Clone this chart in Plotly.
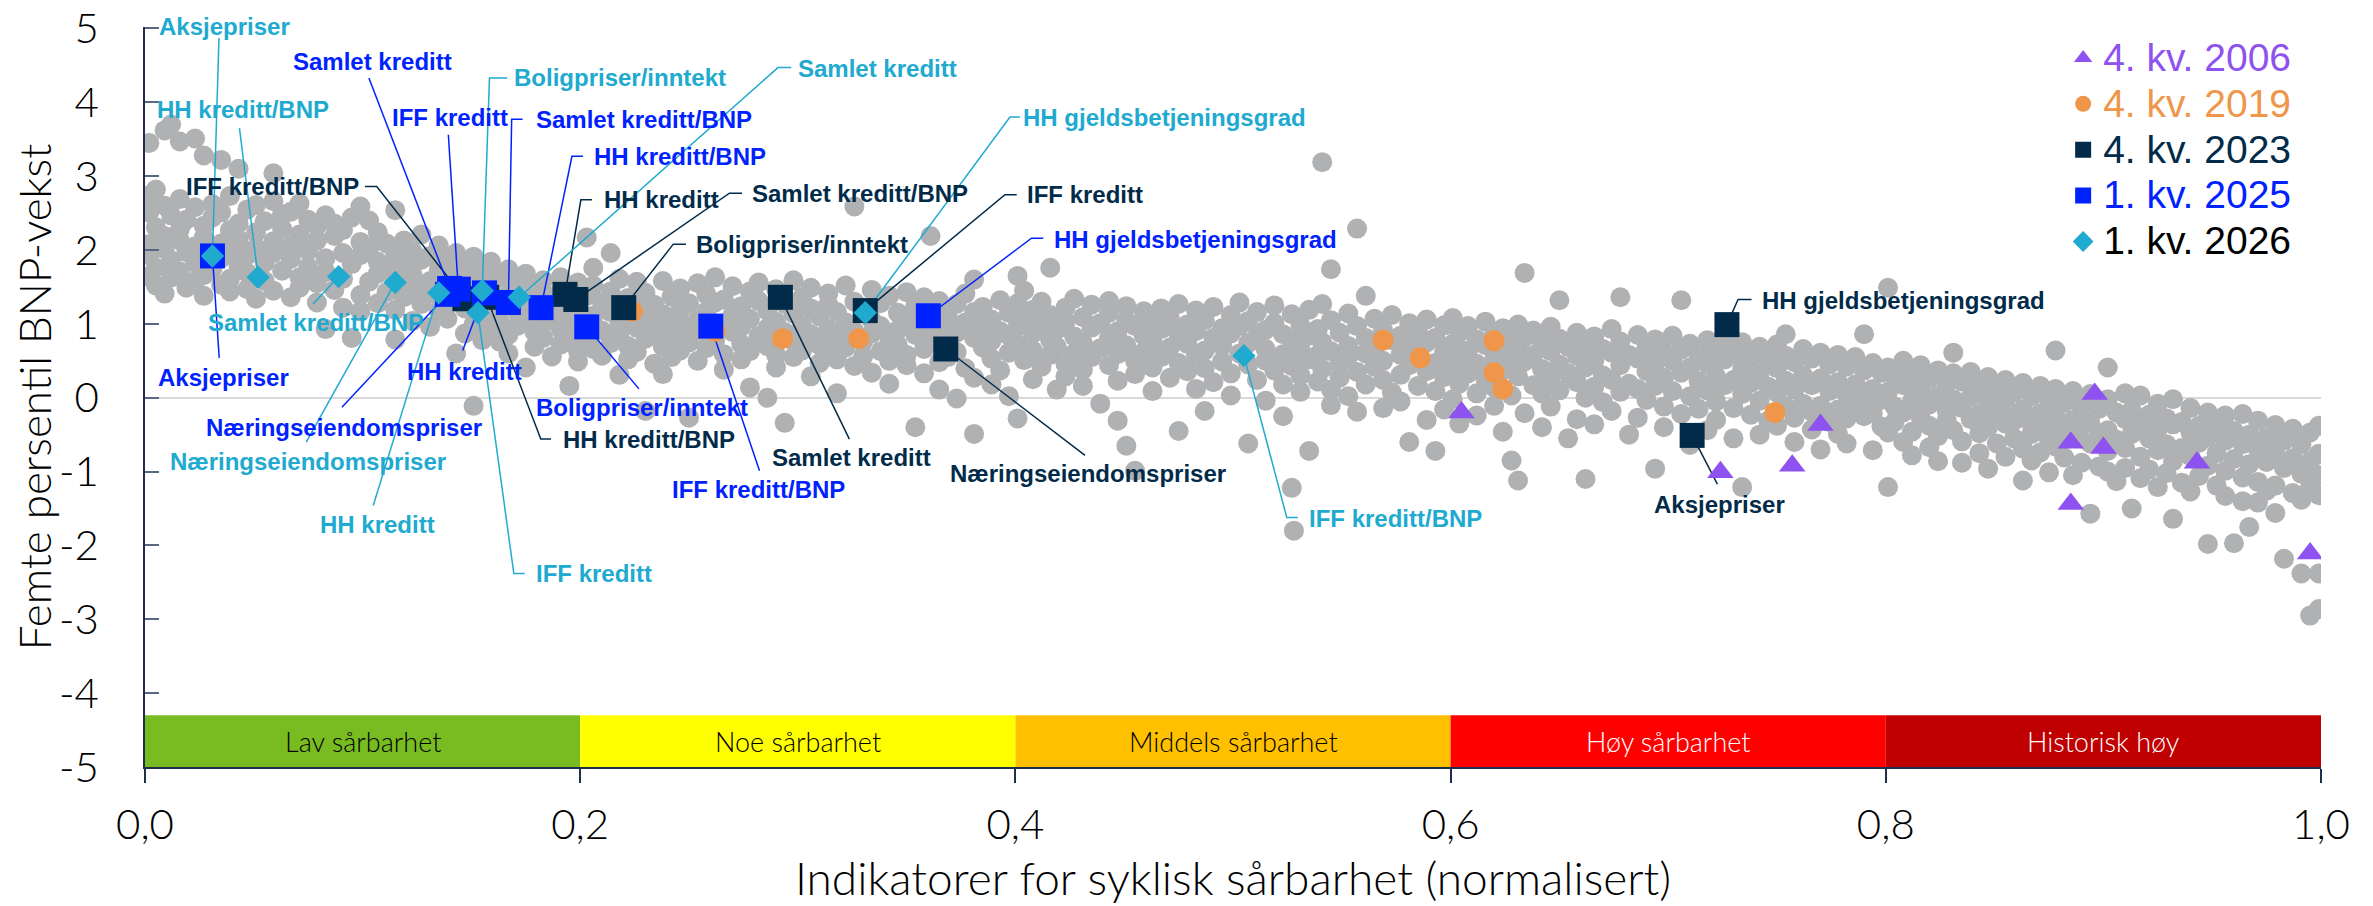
import plotly.graph_objects as go

# ---- data ---------------------------------------------------------------
# grey cloud: historical observations, as (x, [y values]) columns per vulnerability band
grey_lav = [
    (0.002, [3.45, 2.74, 2.51, 2.08, 1.93, 1.64]), (0.005, [2.82, 2.31, 1.76, 1.52]),
    (0.009, [3.62, 2.60, 2.19, 2.01, 1.41]), (0.012, [3.70, 2.47, 1.86, 1.63]),
    (0.016, [3.47, 2.69, 2.28, 2.13, 1.71]), (0.019, [2.41, 1.97, 1.49]),
    (0.023, [3.51, 2.58, 2.05, 1.83, 1.58]), (0.027, [3.28, 2.33, 2.17, 1.66, 1.38]),
    (0.031, [2.62, 2.44, 1.75]), (0.035, [3.22, 2.51, 2.09, 1.89, 1.53]),
    (0.039, [2.73, 2.27, 1.97, 1.61, 1.44]), (0.043, [3.10, 2.36, 2.14, 1.78]),
    (0.047, [2.55, 1.93, 1.69, 1.47]), (0.051, [2.61, 2.24, 2.03, 1.34]),
    (0.055, [2.39, 1.83, 1.58]), (0.059, [3.04, 2.66, 2.12, 1.96, 1.45]),
    (0.063, [2.48, 2.29, 1.72]), (0.067, [2.52, 2.06, 1.88, 1.36]),
    (0.071, [2.63, 2.21, 1.63, 1.49]), (0.075, [2.41, 1.99, 1.77]),
    (0.079, [2.33, 2.13, 1.55, 1.29]), (0.083, [2.47, 1.89, 1.70, 0.93]),
    (0.087, [2.36, 2.19, 1.46]), (0.091, [2.27, 1.96, 1.61, 1.22]),
    (0.095, [2.44, 1.81, 0.81]), (0.099, [2.59, 2.11, 1.93, 1.39, 1.17]),
    (0.103, [2.40, 2.02, 1.57]), (0.107, [2.24, 1.84, 1.68, 1.28]),
    (0.111, [2.09, 1.74, 1.43]), (0.115, [2.54, 1.95, 1.59, 1.19, 0.79]),
    (0.119, [2.13, 1.81, 1.36]), (0.123, [1.98, 1.66, 1.49, 1.04]),
    (0.127, [2.21, 1.87, 1.27]), (0.131, [1.92, 1.58, 1.41, 0.96]),
    (0.135, [2.06, 1.73, 1.18]), (0.139, [1.85, 1.52, 1.31, 1.07]),
    (0.143, [1.96, 1.64, 0.60]), (0.147, [1.79, 1.42, 1.21, 0.87]),
    (0.151, [1.91, 1.57, 0.99, -0.11]), (0.155, [1.70, 1.33, 1.12, 0.78]),
    (0.159, [1.84, 1.48, 0.92]), (0.163, [1.62, 1.26, 1.04, 0.76]),
    (0.167, [1.74, 1.39, 0.85, 0.60]), (0.171, [1.55, 1.17, 0.97]),
    (0.175, [1.68, 1.31, 1.08, 0.41]), (0.179, [1.46, 1.22, 0.89, 0.69]),
    (0.183, [1.59, 1.01, 0.81]), (0.187, [1.37, 1.14, 0.56]),
    (0.191, [1.63, 1.27, 0.93, 0.72]), (0.195, [1.45, 1.06, 0.84, 0.16]),
    (0.199, [1.56, 1.19, 0.63, 0.49]),
]
grey_noe = [
    (0.203, [2.17, 1.38, 0.98, 0.79]), (0.206, [1.76, 1.52, 1.11, 0.66]),
    (0.210, [1.29, 0.91, 0.57]), (0.214, [1.96, 1.44, 1.16, 0.74]),
    (0.218, [1.61, 1.03, 0.86, 0.31]), (0.222, [1.35, 0.70, 0.52]),
    (0.226, [1.57, 1.21, 0.95, 0.62]), (0.230, [1.42, 1.08, 0.80, -0.18]),
    (0.234, [1.26, 0.88, 0.46]), (0.238, [1.58, 1.13, 0.99, 0.69, 0.32]),
    (0.242, [1.37, 0.83, 0.55]), (0.246, [1.48, 1.19, 1.02, 0.64]),
    (0.250, [1.28, 0.92, 0.75, -0.27]), (0.254, [1.55, 1.06, 0.50]),
    (0.258, [1.40, 1.17, 0.86, 0.67]), (0.262, [1.63, 1.29, 0.78]),
    (0.266, [1.33, 1.00, 0.59, 0.38]), (0.270, [1.51, 1.12, 0.89]),
    (0.274, [1.24, 0.96, 0.73, 0.52]), (0.278, [1.44, 1.07, 0.63, 0.14]),
    (0.282, [1.56, 1.31, 0.84]), (0.286, [1.18, 0.94, 0.70, 0.00]),
    (0.290, [1.47, 1.03, 0.58, 0.41]), (0.294, [1.27, 0.89, -0.34]),
    (0.298, [1.59, 1.14, 0.77, 0.55]), (0.302, [1.36, 0.98, 0.64]),
    (0.306, [1.49, 1.21, 0.86, 0.29]), (0.310, [1.10, 0.71, 0.47]),
    (0.314, [1.41, 1.26, 0.93, 0.60]), (0.318, [1.16, 0.81, 0.52, 0.06]),
    (0.322, [1.52, 1.02, 0.68]), (0.326, [2.59, 1.30, 0.90, 0.43]),
    (0.330, [1.19, 0.76, 0.56]), (0.334, [1.46, 1.05, 0.87, 0.34]),
    (0.338, [1.28, 0.97, 0.63]), (0.342, [1.38, 0.82, 0.50, 0.19]),
    (0.346, [1.15, 0.92, 0.71]), (0.350, [1.43, 1.07, 0.58, 0.44]),
    (0.354, [1.25, 0.85, -0.40]), (0.358, [1.36, 1.01, 0.66, 0.33]),
    (0.361, [2.19, 1.18, 0.79]), (0.365, [1.31, 0.94, 0.48, 0.11]),
    (0.369, [1.09, 0.73, 0.55]), (0.373, [1.27, 0.88, 0.62, -0.01]),
    (0.377, [1.41, 1.02, 0.40]), (0.381, [1.60, 1.16, 0.81, 0.27, -0.49]),
    (0.385, [1.23, 0.95, 0.68]), (0.389, [1.06, 0.77, 0.53, 0.18]),
    (0.393, [1.32, 0.90, 0.37]), (0.397, [1.15, 0.84, 0.61, 0.02]),
]
grey_middels = [
    (0.401, [1.65, 1.28, 0.96, 0.72, -0.28]), (0.404, [1.45, 1.08, 0.51]),
    (0.408, [1.19, 0.87, 0.64, 0.25]), (0.412, [1.30, 0.99, 0.42]),
    (0.416, [1.76, 1.12, 0.78, 0.58]), (0.419, [0.92, 0.69, 0.11]),
    (0.423, [1.22, 1.03, 0.46, 0.29]), (0.427, [1.34, 0.83, 0.60]),
    (0.431, [1.09, 0.74, 0.38, 0.16]), (0.435, [1.26, 0.95, 0.55]),
    (0.439, [1.01, 0.67, -0.08]), (0.443, [1.31, 1.15, 0.81, 0.44]),
    (0.447, [0.90, 0.59, 0.23, -0.31]), (0.451, [1.24, 1.04, 0.71, -0.65]),
    (0.455, [0.97, 0.50, 0.32, -0.99]), (0.459, [1.17, 0.84, 0.62]),
    (0.463, [1.02, 0.76, 0.41, 0.09]), (0.467, [1.21, 0.93, 0.55]),
    (0.471, [1.08, 0.68, 0.27]), (0.475, [1.27, 0.86, 0.47, -0.45]),
    (0.479, [0.99, 0.73, 0.36]), (0.483, [1.18, 0.90, 0.58, 0.12]),
    (0.487, [1.05, 0.64, 0.40, -0.18]), (0.491, [1.23, 0.81, 0.21]),
    (0.495, [0.94, 0.70, 0.49]), (0.499, [1.12, 0.87, 0.33, 0.03]),
    (0.503, [1.29, 0.97, 0.60]), (0.507, [1.04, 0.74, 0.45, -0.62]),
    (0.511, [1.16, 0.83, 0.24]), (0.515, [0.92, 0.66, 0.50, -0.04]),
    (0.519, [1.25, 1.01, 0.37]), (0.523, [0.86, 0.59, 0.18, -0.25]),
    (0.527, [1.13, 0.77, 0.43, -1.22]), (0.528, [-1.80]),
    (0.531, [0.98, 0.65, 0.30, 0.08]), (0.535, [1.19, 0.84, 0.52, -0.72]),
    (0.539, [0.93, 0.58, 0.22]), (0.541, [3.19, 1.27, 0.75, 0.39]),
    (0.545, [1.74, 1.05, 0.63, 0.11, -0.10]), (0.549, [0.88, 0.46, 0.27]),
    (0.553, [1.14, 0.70, 0.56, 0.02]), (0.557, [2.29, 0.97, 0.35, -0.19]),
    (0.561, [1.38, 0.81, 0.60, 0.18]), (0.565, [1.07, 0.67, 0.42]),
    (0.569, [0.91, 0.50, 0.24, -0.14]), (0.573, [1.12, 0.78, 0.07]),
    (0.577, [0.84, 0.58, 0.31, -0.05]), (0.581, [1.01, 0.69, 0.44, -0.60]),
    (0.585, [0.90, 0.52, 0.16]), (0.589, [1.06, 0.75, 0.36, -0.30]),
    (0.593, [0.81, 0.47, 0.09, -0.72]), (0.597, [0.98, 0.62, 0.28, -0.16]),
]
grey_hoy = [
    (0.601, [1.08, 0.73, 0.40, -0.02]), (0.604, [0.88, 0.55, 0.19, -0.35]),
    (0.608, [0.97, 0.64, 0.33]), (0.612, [0.79, 0.46, 0.06, -0.24]),
    (0.616, [1.03, 0.71, 0.25]), (0.620, [0.86, 0.52, 0.14, -0.11]),
    (0.624, [0.94, 0.60, 0.37, -0.46]), (0.628, [0.77, 0.43, 0.03, -0.85]),
    (0.631, [0.99, 0.66, 0.29, -1.12]), (0.634, [1.69, 0.82, 0.49, -0.21]),
    (0.638, [0.91, 0.58, 0.17]), (0.642, [0.74, 0.39, 0.06, -0.40]),
    (0.646, [0.96, 0.63, 0.27, -0.12]), (0.650, [1.32, 0.80, 0.45, 0.10]),
    (0.654, [0.69, 0.33, -0.55]), (0.658, [0.88, 0.57, 0.21, -0.29]),
    (0.662, [0.72, 0.41, 0.00, -1.10]), (0.666, [0.83, 0.50, 0.15, -0.36]),
    (0.670, [0.66, 0.30, -0.06]), (0.674, [0.93, 0.61, 0.24, -0.18]),
    (0.678, [1.36, 0.76, 0.44, 0.08]), (0.682, [0.58, 0.19, -0.50]),
    (0.686, [0.85, 0.53, 0.12, -0.27]), (0.690, [0.68, 0.36, -0.03]),
    (0.694, [0.79, 0.47, 0.16, -0.96]), (0.698, [0.62, 0.27, -0.12, -0.40]),
    (0.702, [0.84, 0.50, 0.09]), (0.706, [1.32, 0.65, 0.34, -0.22]),
    (0.710, [0.73, 0.41, 0.02, -0.64]), (0.714, [0.56, 0.22, -0.15]),
    (0.718, [0.78, 0.45, 0.10, -0.44]), (0.722, [0.63, 0.29, -0.05, -0.30]),
    (0.726, [0.81, 0.52, 0.17]), (0.730, [0.60, 0.24, -0.14, -0.55]),
    (0.734, [0.75, 0.39, 0.05, -1.21]), (0.738, [0.55, 0.20, -0.23]),
    (0.742, [0.69, 0.33, -0.04, -0.50]), (0.746, [0.52, 0.15, -0.31]),
    (0.750, [0.72, 0.40, 0.07, -0.38]), (0.754, [0.86, 0.57, 0.23, -0.12]),
    (0.758, [0.48, 0.11, -0.27, -0.60]), (0.762, [0.66, 0.30, -0.08]),
    (0.766, [0.53, 0.17, -0.19, -0.43]), (0.770, [0.61, 0.26, -0.11, -0.70]),
    (0.774, [0.45, 0.09, -0.33]), (0.778, [0.58, 0.21, -0.16, -0.49]),
    (0.782, [0.42, 0.05, -0.28, -0.62]), (0.786, [0.55, 0.18, -0.09]),
    (0.790, [0.86, 0.37, 0.00, -0.25]), (0.794, [0.47, 0.12, -0.21, -0.71]),
    (0.798, [0.34, -0.03, -0.39]),
]
grey_historisk = [
    (0.801, [1.49, 0.41, 0.08, -0.47, -1.21]), (0.804, [0.29, -0.12, -0.33]),
    (0.808, [0.50, 0.17, -0.20, -0.60]), (0.812, [0.32, -0.05, -0.46, -0.78]),
    (0.816, [0.44, 0.10, -0.26]), (0.820, [0.26, -0.09, -0.38, -0.67]),
    (0.824, [0.37, 0.03, -0.52, -0.86]), (0.828, [0.19, -0.18, -0.31]),
    (0.831, [0.61, 0.33, -0.02, -0.44]), (0.835, [0.22, -0.14, -0.59, -0.88]),
    (0.839, [0.35, 0.01, -0.29]), (0.843, [0.15, -0.22, -0.48, -0.75]),
    (0.847, [0.28, -0.07, -0.40, -0.96]), (0.851, [0.11, -0.26, -0.62]),
    (0.855, [0.24, -0.11, -0.35, -0.80]), (0.859, [0.07, -0.31, -0.55]),
    (0.863, [0.20, -0.16, -0.69, -1.12]), (0.867, [0.02, -0.36, -0.49, -0.85]),
    (0.871, [0.16, -0.21, -0.74]), (0.875, [-0.03, -0.42, -0.58, -1.01]),
    (0.878, [0.64, 0.12, -0.25, -0.66]), (0.882, [-0.07, -0.46, -0.81]),
    (0.886, [0.09, -0.30, -0.54, -1.05]), (0.890, [-0.12, -0.39, -0.88]),
    (0.894, [0.05, -0.34, -0.62, -1.57]), (0.898, [-0.15, -0.51, -0.93]),
    (0.902, [0.41, -0.02, -0.44, -0.72, -1.00]), (0.906, [-0.20, -0.57, -1.13]),
    (0.910, [0.06, -0.29, -0.68, -0.95]), (0.913, [-0.17, -0.49, -1.50]),
    (0.917, [0.03, -0.37, -0.80, -1.09]), (0.921, [-0.23, -0.55, -0.97]),
    (0.925, [-0.08, -0.42, -0.71, -1.21]), (0.929, [-0.28, -0.63, -1.02]),
    (0.932, [-0.02, -0.36, -0.86, -1.64]), (0.936, [-0.33, -0.68, -1.15]),
    (0.940, [-0.14, -0.47, -0.79, -1.27]), (0.944, [-0.38, -0.61, -1.06]),
    (0.948, [-0.20, -0.53, -0.92, -1.98]), (0.952, [-0.41, -0.75, -1.19]),
    (0.956, [-0.24, -0.58, -0.99, -1.33]), (0.960, [-0.45, -0.83, -1.97]),
    (0.964, [-0.22, -0.63, -1.08, -1.40]), (0.967, [-0.50, -0.90, -1.75]),
    (0.971, [-0.31, -0.69, -1.14, -1.42]), (0.975, [-0.54, -0.87, -1.26]),
    (0.979, [-0.37, -0.76, -1.19, -1.56]), (0.983, [-0.58, -0.95, -2.18]),
    (0.987, [-0.42, -0.82, -1.29]), (0.991, [-0.63, -1.03, -1.38, -2.38]),
    (0.995, [-0.47, -0.86, -1.20, -2.95]), (0.999, [-0.38, -0.76, -1.05, -1.32, -2.38, -2.86]),
]

# 4. kv. 2006
x_2006 = [0.605, 0.724, 0.757, 0.770, 0.885, 0.885, 0.896, 0.900, 0.943, 0.995]
y_2006 = [-0.20, -1.01, -0.92, -0.37, -0.61, -1.44, 0.05, -0.68, -0.88, -2.11]

# 4. kv. 2019
x_2019 = [0.224, 0.262, 0.293, 0.328, 0.569, 0.586, 0.620, 0.620, 0.624, 0.749]
y_2019 = [1.17, 0.90, 0.80, 0.80, 0.78, 0.54, 0.77, 0.34, 0.12, -0.20]

# 4. kv. 2023
lab_2023 = ["IFF kreditt/BNP", "HH kreditt/BNP", "HH kreditt", "Samlet kreditt/BNP",
            "Boligpriser/inntekt", "Samlet kreditt", "IFF kreditt", "Næringseiendomspriser",
            "Aksjepriser", "HH gjeldsbetjeningsgrad"]
x_2023 = [0.147, 0.157, 0.193, 0.198, 0.220, 0.292, 0.331, 0.368, 0.711, 0.727]
y_2023 = [1.34, 1.36, 1.40, 1.33, 1.22, 1.36, 1.18, 0.66, -0.51, 0.99]

# 1. kv. 2025
lab_2025 = ["Aksjepriser", "Næringseiendomspriser", "Samlet kreditt", "IFF kreditt",
            "HH kreditt", "Samlet kreditt/BNP", "HH kreditt/BNP", "Boligpriser/inntekt",
            "IFF kreditt/BNP", "HH gjeldsbetjeningsgrad"]
x_2025 = [0.031, 0.139, 0.140, 0.144, 0.156, 0.167, 0.182, 0.203, 0.260, 0.360]
y_2025 = [1.92, 1.40, 1.48, 1.47, 1.42, 1.29, 1.22, 0.96, 0.97, 1.11]

# 1. kv. 2026
lab_2026 = ["Aksjepriser", "HH kreditt/BNP", "Samlet kreditt/BNP", "Næringseiendomspriser",
            "HH kreditt", "Boligpriser/inntekt", "IFF kreditt", "Samlet kreditt",
            "HH gjeldsbetjeningsgrad", "IFF kreditt/BNP"]
x_2026 = [0.031, 0.052, 0.089, 0.115, 0.135, 0.155, 0.153, 0.172, 0.331, 0.505]
y_2026 = [1.92, 1.63, 1.64, 1.56, 1.42, 1.45, 1.15, 1.36, 1.15, 0.57]

# vulnerability bands
band_names = ["Lav sårbarhet", "Noe sårbarhet", "Middels sårbarhet", "Høy sårbarhet", "Historisk høy"]
band_edges = [0.0, 0.2, 0.4, 0.6, 0.8, 1.0]

# axis ticks
y_ticks = [-5, -4, -3, -2, -1, 0, 1, 2, 3, 4, 5]
y_ticktext = ["-5", "-4", "-3", "-2", "-1", "0", "1", "2", "3", "4", "5"]
x_ticks = [0.0, 0.2, 0.4, 0.6, 0.8, 1.0]
x_ticktext = ["0,0", "0,2", "0,4", "0,6", "0,8", "1,0"]

# ---- styling / label placement -----------------------------------------
C_GREY = "#B0B1B3"
C_2006 = "#8E52F0"
C_2019 = "#F0964B"
C_2023 = "#022B4A"
C_2025 = "#0022FF"
C_2026 = "#20AAD0"
band_colors = ["#78BC22", "#FFFF00", "#FFC000", "#FF0000", "#C00000"]
band_text = ["black", "black", "black", "white", "white"]
FONT = "Liberation Sans, Arial, sans-serif"
LIGHT = "Lato, Liberation Sans, sans-serif"
Y0, Y1 = -5, 5.02

# label text position (left edge, middle) and leader path before the marker
place_2026 = {
    "Aksjepriser": ((0.0055, 5.03), [(0.034, 4.87)]),
    "HH kreditt/BNP": ((0.0044, 3.90), [(0.0434, 3.65)]),
    "Samlet kreditt/BNP": ((0.028, 1.02), [(0.0772, 1.27)]),
    "Næringseiendomspriser": ((0.0106, -0.87), [(0.0741, -0.60)]),
    "HH kreditt": ((0.0793, -1.72), [(0.1049, -1.46)]),
    "Boligpriser/inntekt": ((0.1685, 4.33), [(0.1665, 4.33), (0.1583, 4.33)]),
    "IFF kreditt": ((0.1788, -2.38), [(0.1745, -2.38), (0.1695, -2.38)]),
    "Samlet kreditt": ((0.299, 4.46), [(0.297, 4.47), (0.2909, 4.47)]),
    "HH gjeldsbetjeningsgrad": ((0.4027, 3.79), [(0.4021, 3.80), (0.3975, 3.80)]),
    "IFF kreditt/BNP": ((0.534, -1.64), [(0.5298, -1.62), (0.5247, -1.62)]),
}
place_2025 = {
    "Aksjepriser": ((0.005, 0.28), [(0.0341, 0.54)]),
    "Næringseiendomspriser": ((0.027, -0.40), [(0.0905, -0.13)]),
    "Samlet kreditt": ((0.067, 4.55), [(0.1029, 4.33)]),
    "IFF kreditt": ((0.1127, 3.79), [(0.1394, 3.56)]),
    "HH kreditt": ((0.1193, 0.36), [(0.146, 0.64)]),
    "Samlet kreditt/BNP": ((0.1788, 3.77), [(0.1735, 3.77), (0.1685, 3.77)]),
    "HH kreditt/BNP": ((0.2054, 3.27), [(0.2013, 3.27), (0.1962, 3.27)]),
    "Boligpriser/inntekt": ((0.1788, -0.13), [(0.227, 0.12)]),
    "IFF kreditt/BNP": ((0.2413, -1.24), [(0.2824, -0.99)]),
    "HH gjeldsbetjeningsgrad": ((0.4167, 2.14), [(0.4128, 2.16), (0.4074, 2.16)]),
}
place_2023 = {
    "IFF kreditt/BNP": ((0.0177, 2.86), [(0.1011, 2.86), (0.1065, 2.86)]),
    "HH kreditt/BNP": ((0.1913, -0.56), [(0.1866, -0.56), (0.1819, -0.56)]),
    "HH kreditt": ((0.2102, 2.68), [(0.2054, 2.68), (0.2003, 2.68)]),
    "Samlet kreditt/BNP": ((0.278, 2.77), [(0.2744, 2.77), (0.2686, 2.77)]),
    "Boligpriser/inntekt": ((0.2522, 2.08), [(0.2486, 2.08), (0.2428, 2.08)]),
    "Samlet kreditt": ((0.2874, -0.81), [(0.3237, -0.56)]),
    "IFF kreditt": ((0.4044, 2.75), [(0.4006, 2.75), (0.3952, 2.75)]),
    "Næringseiendomspriser": ((0.3692, -1.03), [(0.432, -0.78)]),
    "Aksjepriser": ((0.6927, -1.44), [(0.7226, -1.17)]),
    "HH gjeldsbetjeningsgrad": ((0.7421, 1.31), [(0.7383, 1.33), (0.7321, 1.33)]),
}


def to_paper(y):
    return (y - Y0) / (Y1 - Y0)


fig = go.Figure()

# grey cloud
gx, gy = [], []
for band in (grey_lav, grey_noe, grey_middels, grey_hoy, grey_historisk):
    for x, ys in band:
        gx += [x] * len(ys)
        gy += ys
fig.add_trace(go.Scatter(x=gx, y=gy, mode="markers", showlegend=False, hoverinfo="skip",
                         marker=dict(color=C_GREY, size=20, line_width=0)))

# leader lines (below the coloured markers)
annotations = []
for labels, xs, ys, place, color in [
    (lab_2023, x_2023, y_2023, place_2023, C_2023),
    (lab_2025, x_2025, y_2025, place_2025, C_2025),
    (lab_2026, x_2026, y_2026, place_2026, C_2026),
]:
    for lab, px, py in zip(labels, xs, ys):
        (tx, ty), path = place[lab]
        lx = [p[0] for p in path] + [px]
        ly = [p[1] for p in path] + [py]
        fig.add_trace(go.Scatter(x=lx, y=ly, mode="lines", showlegend=False, hoverinfo="skip",
                                 line=dict(color=color, width=1.5)))
        annotations.append(dict(x=tx, y=to_paper(ty), xref="paper", yref="paper", text=lab,
                                showarrow=False, xanchor="left", yanchor="middle",
                                font=dict(family=FONT, size=24, color=color, weight="bold")))


def legend_name(text, color):
    return f'<span style="color:{color};font-size:39px">{text}</span>'


fig.add_trace(go.Scatter(x=x_2006, y=y_2006, mode="markers", name=legend_name("4. kv. 2006", C_2006),
                         marker=dict(symbol="triangle-up", size=23, color=C_2006, line_width=0)))
fig.add_trace(go.Scatter(x=x_2019, y=y_2019, mode="markers", name=legend_name("4. kv. 2019", C_2019),
                         marker=dict(symbol="circle", size=21, color=C_2019, line_width=0)))
fig.add_trace(go.Scatter(x=x_2023, y=y_2023, mode="markers", name=legend_name("4. kv. 2023", C_2023),
                         marker=dict(symbol="square", size=25, color=C_2023, line_width=0)))
fig.add_trace(go.Scatter(x=x_2025, y=y_2025, mode="markers", name=legend_name("1. kv. 2025", C_2025),
                         marker=dict(symbol="square", size=25, color=C_2025, line_width=0)))
fig.add_trace(go.Scatter(x=x_2026, y=y_2026, mode="markers", name=legend_name("1. kv. 2026", "black"),
                         marker=dict(symbol="diamond", size=18, color=C_2026, line_width=0)))

# vulnerability bands along the bottom
shapes = []
for i, name in enumerate(band_names):
    x0, x1 = band_edges[i], band_edges[i + 1]
    shapes.append(dict(type="rect", xref="x", yref="y", x0=x0, x1=x1, y0=-5, y1=-4.3,
                       fillcolor=band_colors[i], line_width=0, layer="below"))
    annotations.append(dict(x=(x0 + x1) / 2, y=-4.65, xref="x", yref="y", text=name,
                            showarrow=False,
                            font=dict(family=LIGHT, size=27, color=band_text[i], weight=300)))

# the page body adds an 8 px margin, so the figure is 8 px smaller and shifted up/left
fig.update_layout(
    width=2365, height=898,
    margin=dict(l=137, r=52, t=19, b=139, autoexpand=False),
    plot_bgcolor="white", paper_bgcolor="white",
    shapes=shapes, annotations=annotations,
    font=dict(family=LIGHT, color="black"),
    legend=dict(x=0.8815, y=0.996, xanchor="left", yanchor="top", bgcolor="rgba(0,0,0,0)",
                font=dict(family=FONT, size=33), tracegroupgap=0, itemwidth=30),
)
fig.update_xaxes(range=[0, 1], tickvals=x_ticks, ticktext=x_ticktext, showgrid=False, zeroline=False,
                 showline=True, linecolor="#1F2E4D", linewidth=1.5,
                 ticks="outside", ticklen=14, tickcolor="#1F2E4D", tickwidth=1.5,
                 tickfont=dict(family=LIGHT, size=42, weight=300), ticklabelstandoff=6,
                 ticklabeloverflow="allow",
                 title=dict(text="Indikatorer for syklisk sårbarhet (normalisert)", standoff=16,
                            font=dict(family=LIGHT, size=46, weight=300)),
                 automargin=False)
fig.update_yaxes(range=[Y0, Y1], tickvals=y_ticks, ticktext=y_ticktext, showgrid=False,
                 zeroline=True, zerolinecolor="#D9D9D9", zerolinewidth=2,
                 showline=True, linecolor="#1F2E4D", linewidth=1.5,
                 ticks="inside", ticklen=14, tickcolor="#596780", tickwidth=1.5,
                 tickfont=dict(family=LIGHT, size=42, weight=300), ticklabelstandoff=36,
                 ticklabeloverflow="allow",
                 title=dict(text="Femte persentil BNP-vekst", standoff=0,
                            font=dict(family=LIGHT, size=44, weight=300)),
                 automargin=False)

fig.write_html("out.html")
